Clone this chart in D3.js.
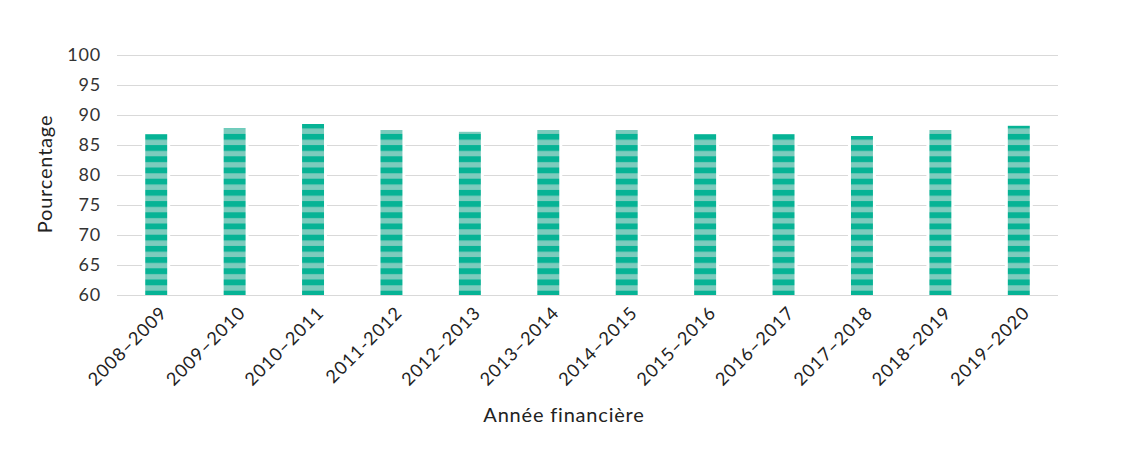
<!DOCTYPE html>
<html>
<head>
<meta charset="utf-8">
<script src="https://cdn.jsdelivr.net/npm/d3@7"></script>
<style>
  html, body { margin: 0; padding: 0; background: #fff; }
  svg { display: block; font-family: Lato, "Open Sans", sans-serif; }
</style>
</head>
<body>
<svg width="1125" height="464"></svg>
<script>
// share of records per financial year (percent)
const years  = ["2008–2009", "2009–2010", "2010–2011", "2011-2012", "2012–2013", "2013–2014",
                "2014–2015", "2015–2016", "2016–2017", "2017–2018", "2018–2019", "2019–2020"]
const values = [86.8, 87.8, 88.5, 87.5, 87.2, 87.5, 87.5, 86.8, 86.8, 86.5, 87.5, 88.2]
const yTicks = [60, 65, 70, 75, 80, 85, 90, 95, 100]

const svg    = d3.select("svg")
const width  = 1125
const height = 464
const margin = { top: 55, right: 67, bottom: 169, left: 117 }
const innerWidth  = width - margin.left - margin.right
const innerHeight = height - margin.top - margin.bottom

const x = d3.scaleBand().domain(years).range([0, innerWidth]).paddingInner(0.72).paddingOuter(0.36)
const y = d3.scaleLinear().domain([60, 100]).range([innerHeight, 0])

// striped fill, stripes aligned on the plot and not on each bar
const defs = svg.append("defs")
const pat = defs.append("pattern")
  .attr("id", "stripes")
  .attr("patternUnits", "userSpaceOnUse")
  .attr("x", 0).attr("y", y(60) - 4.3)
  .attr("width", 10).attr("height", 11.2)
pat.append("rect").attr("width", 10).attr("height", 11.2).attr("fill", "#7dcbbd")
pat.append("rect").attr("width", 10).attr("height", 5.8).attr("fill", "#06b395")

const g = svg.append("g").attr("transform", `translate(${margin.left},${margin.top})`)

// grid
g.append("g").selectAll("line")
  .data(yTicks).join("line")
    .attr("x1", 0).attr("x2", innerWidth)
    .attr("y1", d => y(d) + 0.5).attr("y2", d => y(d) + 0.5)
    .attr("stroke", "#d9d9d9").attr("stroke-width", 1)

// bars, white halo cuts the grid lines around them
g.append("g").selectAll("rect")
  .data(values).join("rect")
    .attr("x", (d, i) => x(years[i]))
    .attr("y", d => y(d))
    .attr("width", x.bandwidth())
    .attr("height", d => y(60) - y(d))
    .attr("fill", "url(#stripes)")
    .attr("stroke", "#fff").attr("stroke-width", 6)
    .style("paint-order", "stroke")

// baseline over the bars
g.append("line")
  .attr("x1", 0).attr("x2", innerWidth)
  .attr("y1", y(60) + 0.5).attr("y2", y(60) + 0.5)
  .attr("stroke", "#d9d9d9")

// y tick labels
g.append("g").selectAll("text")
  .data(yTicks).join("text")
    .attr("x", -16).attr("y", d => y(d))
    .attr("dy", "0.35em")
    .attr("text-anchor", "end")
    .attr("fill", "#333")
    .style("font-size", "18px").style("letter-spacing", "0.8px")
    .text(d => d)

// x tick labels, rotated
g.append("g").selectAll("text")
  .data(years).join("text")
    .attr("text-anchor", "end")
    .attr("transform", d => `translate(${x(d) + x.bandwidth() / 2 + 12},${innerHeight + 19}) rotate(-45)`)
    .attr("fill", "#222")
    .style("font-size", "18px").style("letter-spacing", "1px")
    .text(d => d)

// axis titles
svg.append("text")
  .attr("x", 564).attr("y", 422)
  .attr("text-anchor", "middle")
  .attr("fill", "#222")
  .style("font-size", "20px").style("letter-spacing", "0.8px")
  .text("Année financière")

svg.append("text")
  .attr("transform", `translate(52,174) rotate(-90)`)
  .attr("text-anchor", "middle")
  .attr("fill", "#222")
  .style("font-size", "20px").style("letter-spacing", "0.8px")
  .text("Pourcentage")
</script>
</body>
</html>
